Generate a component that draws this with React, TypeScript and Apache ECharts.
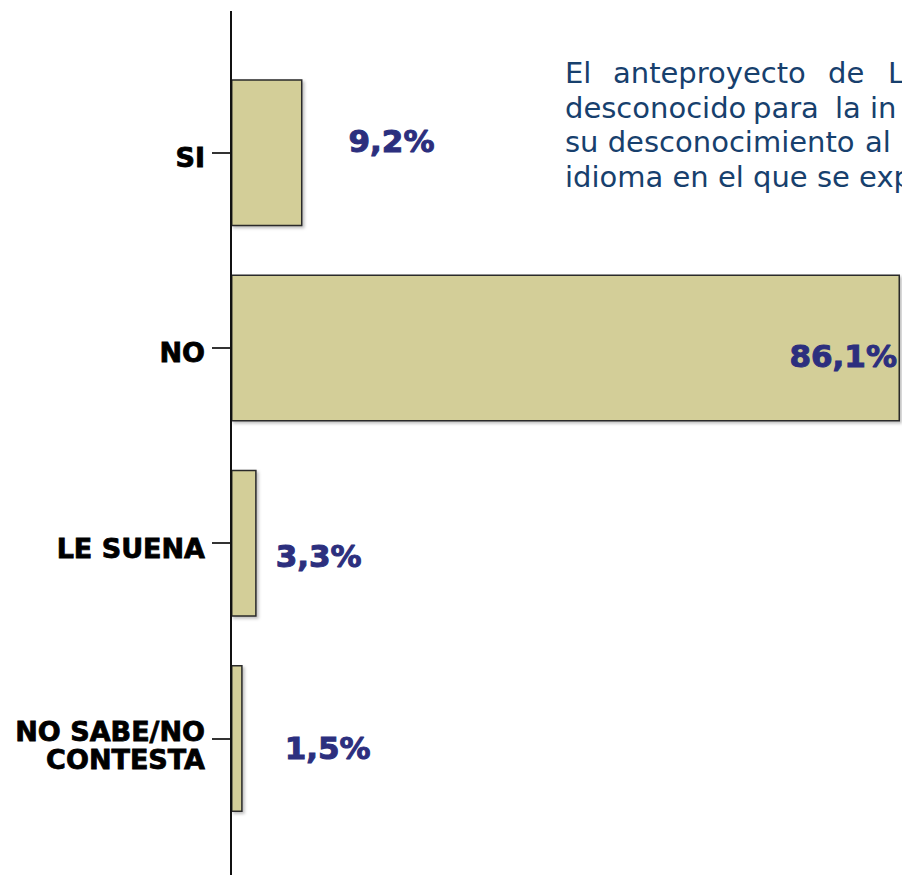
import React, { useEffect, useRef } from "react";
import * as echarts from "echarts";

const categories = ["SI", "NO", "LE SUENA", "NO SABE/NO\nCONTESTA"];
const values = [9.2, 86.1, 3.3, 1.5];
const valueLabels = ["9,2%", "86,1%", "3,3%", "1,5%"];

// label placement styling (not data)
const labelPlacement = [
  { position: "right", offset: [46, -12] },
  { position: "insideRight", offset: [0, 8] },
  { position: "right", offset: [19, 13] },
  { position: "right", offset: [42, 10] },
];

const TEXT_COLOR = "#17406d";
const VALUE_COLOR = "#2c2f7e";
const BODY_FONT = "DejaVu Sans";

export default function App() {
  const ref = useRef<HTMLDivElement>(null);
  useEffect(() => {
    document.body.style.margin = "0";
    const chart = echarts.init(ref.current!, undefined, { renderer: "svg" });
    const words = [
      { t: "El", x: 565, y: 73 },
      { t: "anteproyecto", x: 613, y: 73 },
      { t: "de", x: 828, y: 73 },
      { t: "L", x: 888, y: 73 },
      { t: "desconocido", x: 565, y: 107.5 },
      { t: "para", x: 753, y: 107.5 },
      { t: "la", x: 835, y: 107.5 },
      { t: "in", x: 870, y: 107.5 },
      { t: "su desconocimiento", x: 565, y: 142 },
      { t: "al", x: 865, y: 142 },
      { t: "idioma en el que se exp", x: 565, y: 176.5 },
    ];
    const labelRich = {
      fontFamily: BODY_FONT,
      fontWeight: "bold",
      fontSize: 27,
      lineHeight: 28,
      color: "#000",
      textBorderColor: "#000",
      textBorderWidth: 0.8,
      align: "right",
    };
    chart.setOption({
      animation: false,
      grid: { left: 231, top: 55, width: 669, height: 781, containLabel: false },
      xAxis: {
        type: "value",
        min: 0,
        max: 86.1,
        show: false,
      },
      yAxis: {
        type: "category",
        inverse: true,
        data: categories,
        axisLine: { show: false },
        axisTick: {
          show: true,
          alignWithLabel: true,
          length: 19,
          lineStyle: { color: "#333", width: 2 },
        },
        axisLabel: {
          margin: 26,
          align: "right",
          formatter: (v: string) => {
            const lines = v.split("\n");
            if (lines.length === 1) return `{a|${v}}`;
            return lines.map((l) => `{b|${l}}`).join("\n");
          },
          rich: {
            a: { ...labelRich, padding: [10, 0, 0, 0] },
            b: { ...labelRich, padding: [15, 0, 0, 0] },
          },
        },
      },
      series: [
        {
          type: "bar",
          barWidth: 147,
          data: values.map((v, i) => ({
            value: v,
            label: {
              show: true,
              position: labelPlacement[i].position,
              offset: labelPlacement[i].offset,
              distance: i === 1 ? 3 : 0,
              formatter: () => valueLabels[i],
              color: VALUE_COLOR,
              fontFamily: BODY_FONT,
              fontWeight: "bold",
              fontSize: 31,
              textBorderColor: VALUE_COLOR,
              textBorderWidth: 1,
            },
          })),
          itemStyle: {
            color: "#d3ce98",
            borderColor: "#2a2a2a",
            borderWidth: 1.5,
            shadowColor: "rgba(0,0,0,0.25)",
            shadowBlur: 3,
            shadowOffsetX: 2,
            shadowOffsetY: 2,
          },
        },
      ],
      graphic: [
        {
          type: "line",
          shape: { x1: 231, y1: 11, x2: 231, y2: 875 },
          style: { stroke: "#111", lineWidth: 2 },
          z: 100,
        },
        ...words.map((w) => ({
          type: "text",
          x: w.x,
          y: w.y,
          style: {
            text: w.t,
            fill: TEXT_COLOR,
            font: `29px "${BODY_FONT}"`,
            textAlign: "left",
            textVerticalAlign: "middle",
          },
        })),
      ],
    });
    return () => chart.dispose();
  }, []);
  return <div ref={ref} style={{ width: 902, height: 875 }} />;
}
